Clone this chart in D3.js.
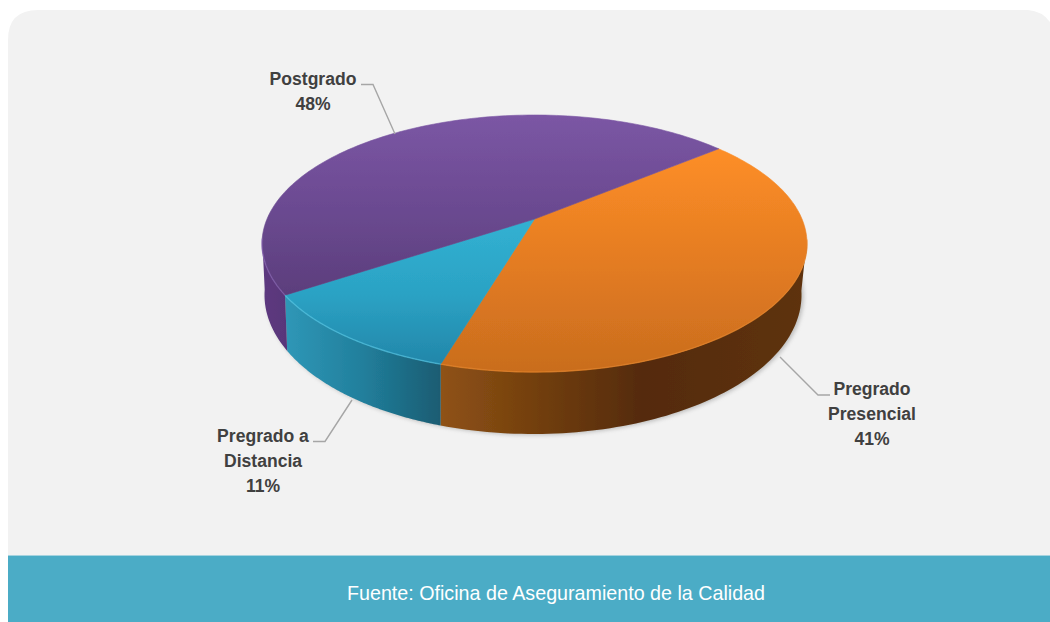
<!DOCTYPE html>
<html><head><meta charset="utf-8">
<script src="https://cdn.jsdelivr.net/npm/d3@7/dist/d3.min.js"></script>
<style>html,body{margin:0;padding:0;background:#fff;overflow:hidden}svg{display:block}
text{font-family:"Liberation Sans",Arial,sans-serif}</style></head><body>
<script>
const categories = ["Pregrado Presencial", "Pregrado a Distancia", "Postgrado"];
const values = [40.6, 11.1, 48.3];
const labelLines = [["Pregrado", "Presencial"], ["Pregrado a", "Distancia"], ["Postgrado"]];
const sourceNote = "Fuente: Oficina de Aseguramiento de la Calidad";

const W = 1050, H = 622;
const topE = {cx: 534.5, cy: 243.5, rx: 272.5, ry: 128.5};
const botE = {cx: 533, cy: 295, rx: 268.5, ry: 139};
const apexShift = 0.19;           // perspective shift of the pie centre
const startDeg = 50.5;

const faceGrad = [
  {id: "fO", y1: 150, y2: 372, stops: ["#fd8e27", "#e47c22", "#c96d1e"]},
  {id: "fB", y1: 225, y2: 365, stops: ["#31b0d1", "#2ba2c4", "#2286a9"]},
  {id: "fP", y1: 116, y2: 300, stops: ["#7b56a4", "#6b4a91", "#5b3d7b"]}
];
const sideGrad = [
  {id: "sO", stops: [[0,"#8f5215"],[.3,"#6e3c0d"],[.55,"#552b09"],[1,"#5e320b"]]},
  {id: "sB", stops: [[0,"#2f97b7"],[.5,"#217f9c"],[1,"#1a5c72"]]},
  {id: "sP", stops: [[0,"#5d3a80"],[1,"#59367a"]]}
];
const leaders = [
  {pts: [[780,357],[818,395],[830,395]], x: 872, y: 395},
  {pts: [[352,400],[325,441.5],[313,441.5]], x: 263, y: 441.5},
  {pts: [[395,134],[373,84.5],[361,84.5]], x: 313, y: 85}
];
const rimGlow = ["#e8862a", "#55c8e6", "#8a66b5"];

const svg = d3.select("body").append("svg").attr("width", W).attr("height", H);
const defs = svg.append("defs");
faceGrad.forEach(g => {
  const lg = defs.append("linearGradient").attr("id", g.id).attr("gradientUnits", "userSpaceOnUse")
    .attr("x1", 0).attr("x2", 0).attr("y1", g.y1).attr("y2", g.y2);
  g.stops.forEach((c, i) => lg.append("stop").attr("offset", i / (g.stops.length - 1)).attr("stop-color", c));
});
const blur = defs.append("filter").attr("id", "sh").attr("x", "-5%").attr("y", "-5%").attr("width", "110%").attr("height", "110%");
blur.append("feGaussianBlur").attr("stdDeviation", 2.2);
const soft = defs.append("filter").attr("id", "soft").attr("x", "-2%").attr("y", "-2%").attr("width", "104%").attr("height", "104%");
soft.append("feGaussianBlur").attr("stdDeviation", 0.5);

// panel + footer
svg.append("path").attr("fill", "#f2f2f2")
  .attr("d", `M8,${H}V40Q8,10 38,10H1028Q1042,11 ${W},22V${H}Z`);
svg.append("rect").attr("x", 8).attr("y", 555).attr("width", W - 8).attr("height", 1).attr("fill", "#a5d3df");
svg.append("rect").attr("x", 8).attr("y", 556).attr("width", W - 8).attr("height", H - 556).attr("fill", "#4bacc6");
svg.append("text").attr("x", 556).attr("y", 600).attr("text-anchor", "middle").attr("fill", "#fff")
  .attr("font-size", 21).attr("textLength", 418).attr("lengthAdjust", "spacingAndGlyphs").text(sourceNote);

// projection: pie angle -> unit disc -> ellipse
const unitX = e => d3.scaleLinear().domain([-1, 1]).range([e.cx - e.rx, e.cx + e.rx]);
const unitY = e => d3.scaleLinear().domain([-1, 1]).range([e.cy - e.ry, e.cy + e.ry]);
const tx = unitX(topE), ty = unitY(topE), bx = unitX(botE), by = unitY(botE);
function disc(a) { // a: d3 pie angle (clockwise from north)
  const u = Math.sin(a), v = Math.cos(a), d = apexShift, k = 1 + d * v;
  return [u * Math.sqrt(1 - d * d) / k, (v + d) / k];
}
const topPt = a => { const [u, v] = disc(a); return [tx(u), ty(-v)]; };
const botPt = a => { const [u, v] = disc(a); return [bx(u), by(-v)]; };
const apex = [tx(0), ty(-apexShift)];

const start = startDeg * Math.PI / 180;
const pie = d3.pie().sort(null).value(d => d).startAngle(start).endAngle(start + 2 * Math.PI);
const arcs = pie(values);
const sampled = (a0, a1) => d3.range(0, 121).map(i => a0 + (a1 - a0) * i / 120);
const line = d3.line();

// ground shadow of the body
const all = sampled(0, 2 * Math.PI);
svg.append("path").attr("d", line(all.map(botPt)) + "Z").attr("fill", "#8c8c8c").attr("opacity", .55)
  .attr("transform", "translate(2,1)").attr("filter", "url(#sh)");

const pieG = svg.append("g").attr("filter", "url(#soft)");
// side walls, only the front facing part (disc lower half)
const isFront = a => { const [, v] = disc(a); return v < 0.05; };
arcs.forEach((d, i) => {
  const as = sampled(d.startAngle, d.endAngle).filter(isFront);
  if (as.length < 2) return;
  const xs = as.map(a => topPt(a)[0]);
  const g = sideGrad[i];
  const lg = defs.append("linearGradient").attr("id", g.id).attr("gradientUnits", "userSpaceOnUse")
    .attr("y1", 0).attr("y2", 0).attr("x1", d3.min(xs)).attr("x2", d3.max(xs));
  g.stops.forEach(s => lg.append("stop").attr("offset", s[0]).attr("stop-color", s[1]));
  const poly = as.map(topPt).concat(as.slice().reverse().map(botPt));
  pieG.append("path").attr("d", line(poly) + "Z").attr("fill", `url(#${g.id})`);
});

// top faces
arcs.forEach((d, i) => {
  const as = sampled(d.startAngle, d.endAngle);
  pieG.append("path").attr("d", line([apex].concat(as.map(topPt))) + "Z")
    .attr("fill", `url(#${faceGrad[i].id})`).attr("stroke", `url(#${faceGrad[i].id})`).attr("stroke-width", .6);
});
// rim highlight on the front edge
arcs.forEach((d, i) => {
  const as = sampled(d.startAngle, d.endAngle).filter(isFront);
  if (as.length < 2) return;
  pieG.append("path").attr("d", line(as.map(topPt))).attr("fill", "none").attr("stroke", rimGlow[i])
    .attr("stroke-width", 1.4).attr("opacity", .6);
});

// leaders + labels
leaders.forEach((l, i) => {
  svg.append("path").attr("d", line(l.pts)).attr("fill", "none").attr("stroke", "#a6a6a6").attr("stroke-width", 1.4);
  const lh = 25;
  labelLines[i].concat(Math.round(values[i]) + "%").forEach((t, j) => svg.append("text")
    .attr("transform", `translate(${l.x},${l.y + j * lh}) scale(0.925,1)`).attr("text-anchor", "middle")
    .attr("font-size", 19).attr("font-weight", "bold").attr("fill", "#404040").text(t));
});
</script></body></html>
